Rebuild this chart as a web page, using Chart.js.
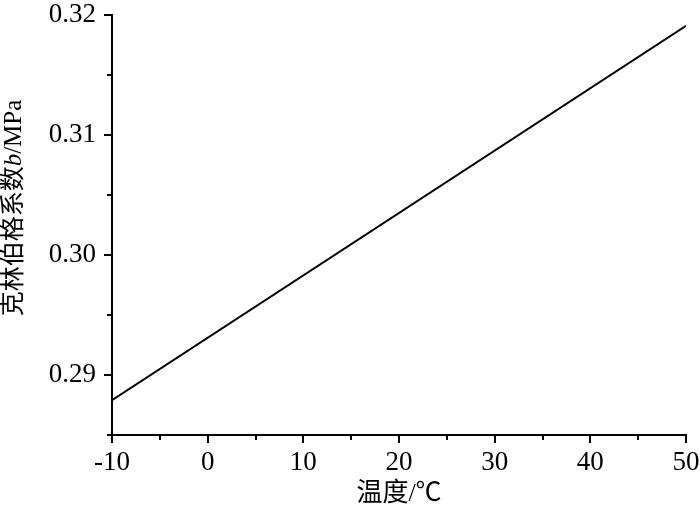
<!DOCTYPE html>
<html lang="zh">
<head>
    <meta charset="UTF-8">
    <title>克林伯格系数</title>
    <script src="https://cdn.jsdelivr.net/npm/chart.js"></script>
    <style>
        html, body { margin: 0; padding: 0; background: #fff; }
        .wrap { width: 700px; height: 514px; position: relative; }
    </style>
</head>
<body>
    <div class="wrap">
        <canvas id="klinkChart"></canvas>
    </div>
    <script>
        // data
        const temps = [-10, 50];
        const coeffB = [0.2879, 0.3191];
        const xTicks = [-10, 0, 10, 20, 30, 40, 50];
        const xMinor = [-5, 5, 15, 25, 35, 45];
        const yTicks = [0.29, 0.30, 0.31, 0.32];
        const yMinor = [0.285, 0.295, 0.305, 0.315];

        const serif = '"Liberation Serif", "Noto Sans CJK SC", serif';

        // outward major / minor ticks plus the two axis titles
        const axisDecor = {
            id: 'axisDecor',
            afterDraw(chart) {
                const ctx = chart.ctx;
                const xs = chart.scales.x, ys = chart.scales.y;
                const area = chart.chartArea;
                ctx.save();
                ctx.strokeStyle = '#000';
                ctx.lineWidth = 2;
                ctx.beginPath();
                xTicks.concat(xMinor).forEach(v => {
                    const len = xTicks.includes(v) ? 8 : 5;
                    const px = Math.round(xs.getPixelForValue(v));
                    ctx.moveTo(px, area.bottom);
                    ctx.lineTo(px, area.bottom + len);
                });
                yTicks.concat(yMinor).forEach(v => {
                    const len = yTicks.includes(v) ? 8 : 5;
                    const py = Math.round(ys.getPixelForValue(v));
                    ctx.moveTo(area.left, py);
                    ctx.lineTo(area.left - len, py);
                });
                ctx.stroke();

                // x title
                ctx.fillStyle = '#000';
                ctx.font = '26px ' + serif;
                ctx.textAlign = 'center';
                ctx.textBaseline = 'middle';
                ctx.fillText('温度/℃', (area.left + area.right) / 2, 494);

                // y title with italic b
                const parts = [
                    { t: '克林伯格系数', f: '25px ' + serif },
                    { t: 'b', f: 'italic 25px ' + serif },
                    { t: '/MPa', f: '25px ' + serif }
                ];
                let total = 0;
                parts.forEach(p => { ctx.font = p.f; p.w = ctx.measureText(p.t).width; total += p.w; });
                ctx.translate(14, 208);
                ctx.rotate(-Math.PI / 2);
                ctx.textAlign = 'left';
                let x = -total / 2;
                parts.forEach(p => { ctx.font = p.f; ctx.fillText(p.t, x, 0); x += p.w; });
                ctx.restore();
            }
        };

        const ctx = document.getElementById('klinkChart').getContext('2d');
        new Chart(ctx, {
            type: 'line',
            data: {
                labels: temps,
                datasets: [{
                    data: temps.map((t, i) => ({ x: t, y: coeffB[i] })),
                    borderColor: '#000',
                    borderWidth: 2,
                    pointRadius: 0,
                    fill: false,
                    tension: 0
                }]
            },
            options: {
                responsive: true,
                maintainAspectRatio: false,
                animation: false,
                layout: { padding: { left: 0, right: 14, top: 15, bottom: 0 } },
                plugins: {
                    legend: { display: false },
                    tooltip: { enabled: false }
                },
                scales: {
                    x: {
                        type: 'linear',
                        min: -10,
                        max: 50,
                        afterBuildTicks: s => { s.ticks = xTicks.map(v => ({ value: v })); },
                        afterFit: s => { s.height = 79; s.paddingLeft = 0; s.paddingRight = 0; },
                        grid: { display: false, drawTicks: false, tickLength: 0 },
                        border: { display: true, color: '#000', width: 2 },
                        ticks: {
                            color: '#000',
                            font: { family: serif, size: 27 },
                            padding: 12,
                            maxRotation: 0,
                            callback: v => String(v)
                        }
                    },
                    y: {
                        type: 'linear',
                        min: 0.285,
                        max: 0.32,
                        afterBuildTicks: s => { s.ticks = yTicks.map(v => ({ value: v })); },
                        afterFit: s => { s.width = 112; s.paddingTop = 0; s.paddingBottom = 0; },
                        grid: { display: false, drawTicks: false, tickLength: 0 },
                        border: { display: true, color: '#000', width: 2 },
                        ticks: {
                            color: '#000',
                            font: { family: serif, size: 27 },
                            padding: 16,
                            callback: v => v.toFixed(2)
                        }
                    }
                }
            },
            plugins: [axisDecor]
        });
    </script>
</body>
</html>
